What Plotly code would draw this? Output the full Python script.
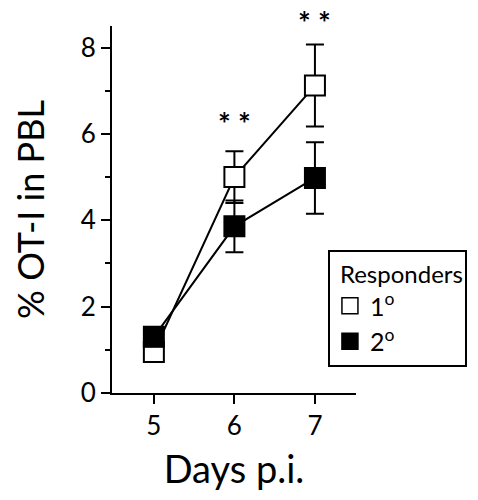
import plotly.graph_objects as go

days = [5, 6, 7]
primary_mean = [0.95, 5.0, 7.12]
primary_err = [0.2, 0.6, 0.95]
secondary_mean = [1.3, 3.86, 4.98]
secondary_err = [0.22, 0.6, 0.83]
primary_label = "1<sup>o</sup>"
secondary_label = "2<sup>o</sup>"
sig_days = [6, 7]
sig_y = [6.25, 8.5]
sig_shift = [0, 4]
sig_text = ["<b>* *</b>", "<b>* *</b>"]
y_ticks = [0, 2, 4, 6, 8]
x_ticks = [5, 6, 7]

FONT = "Lato"
fig = go.Figure()

fig.add_trace(go.Scatter(
    x=days, y=primary_mean, mode="lines+markers", showlegend=False,
    line=dict(color="black", width=2),
    marker=dict(symbol="square", size=20, color="white", line=dict(color="black", width=2)),
    error_y=dict(type="data", array=primary_err, color="black", thickness=2, width=9),
))
fig.add_trace(go.Scatter(
    x=days, y=secondary_mean, mode="lines+markers", showlegend=False,
    line=dict(color="black", width=2),
    marker=dict(symbol="square", size=20, color="black", line=dict(color="black", width=2)),
    error_y=dict(type="data", array=secondary_err, color="black", thickness=2, width=9),
))
# legend entries
fig.add_trace(go.Scatter(
    x=[None], y=[None], mode="markers", name=primary_label,
    marker=dict(symbol="square", size=18, color="white", line=dict(color="black", width=1.5)),
))
fig.add_trace(go.Scatter(
    x=[None], y=[None], mode="markers", name=secondary_label,
    marker=dict(symbol="square", size=18, color="black", line=dict(color="black", width=1.5)),
))

for xd, yd, ys, t in zip(sig_days, sig_y, sig_shift, sig_text):
    fig.add_annotation(x=xd, y=yd, yshift=ys, text=t, showarrow=False, xref="x", yref="y",
                       font=dict(family=FONT, size=30, color="black"))

fig.update_layout(
    width=470, height=484,
    margin=dict(l=104, r=122, t=18, b=99, autoexpand=False),
    plot_bgcolor="white", paper_bgcolor="white",
    font=dict(family=FONT, color="black"),
    showlegend=True,
    legend=dict(
        x=0.885, y=0.39, xanchor="left", yanchor="top",
        bordercolor="black", borderwidth=2, bgcolor="white",
        title=dict(text="\u2004Responders", font=dict(size=24, family=FONT)),
        font=dict(size=25, family=FONT), itemsizing="trace",
    ),
    xaxis=dict(
        range=[4.48, 7.51], tickvals=x_ticks, ticktext=[str(v) for v in x_ticks],
        showgrid=False, zeroline=False, showline=True, linecolor="black", linewidth=2,
        ticks="outside", ticklen=9, tickwidth=2, tickcolor="black",
        tickfont=dict(size=26, family=FONT),
        title=dict(text="Days p.i.", font=dict(size=38, family=FONT), standoff=16),
    ),
    yaxis=dict(
        range=[0, 8.5], tickvals=y_ticks, ticktext=[str(v) for v in y_ticks],
        showgrid=False, zeroline=False, showline=True, linecolor="black", linewidth=2,
        ticks="outside", ticklen=9, tickwidth=2, tickcolor="black",
        tickfont=dict(size=26, family=FONT),
        minor=dict(tickvals=[1, 3, 5, 7], ticks="outside", ticklen=5, tickwidth=2, tickcolor="black"),
        title=dict(text="% OT-I in PBL", font=dict(size=36, family=FONT), standoff=30),
    ),
)

fig.write_html("out.html")
